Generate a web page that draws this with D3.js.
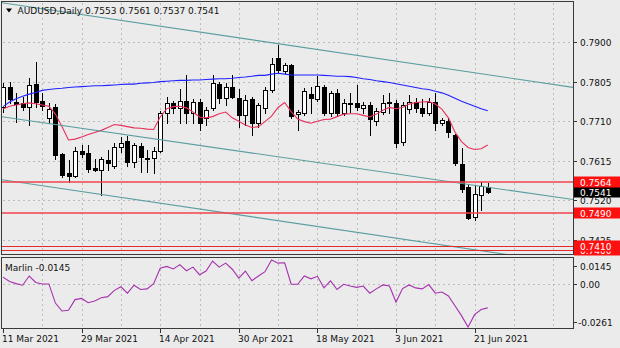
<!DOCTYPE html>
<html>
<head>
<meta charset="utf-8">
<script src="https://cdn.jsdelivr.net/npm/d3@7"></script>
<style>
  html, body { margin: 0; padding: 0; background: #ebebeb; }
  svg { display: block; }
  text { font-family: "DejaVu Sans", sans-serif; font-size: 9px; fill: #111; }
</style>
</head>
<body>
<svg id="chart" width="620" height="348"></svg>
<script>
// AUDUSD daily bars, 11 Mar 2021 .. 23 Jun 2021
const open = [0.7745,0.7793,0.7757,0.7754,0.7745,0.7799,0.7759,0.7717,0.7745,0.7631,
  0.7585,0.7579,0.7639,0.7633,0.7597,0.7593,0.7617,0.7602,0.7647,0.7662,
  0.7613,0.7650,0.7622,0.7621,0.7639,0.7729,0.7753,0.7741,0.7759,0.7729,
  0.7757,0.7717,0.7741,0.7799,0.7765,0.7791,0.7765,0.7725,0.7763,0.7705,
  0.7741,0.7785,0.7861,0.7831,0.7845,0.7727,0.7729,0.7775,0.7763,0.7793,
  0.7729,0.7778,0.7729,0.7753,0.7753,0.7741,0.7749,0.7711,0.7733,0.7754,
  0.7754,0.7661,0.7739,0.7757,0.7741,0.7729,0.7757,0.7705,0.7711,0.7677,
  0.7607,0.7551,0.7481,0.7533,0.7553];
const high = [0.7802,0.7805,0.7777,0.7769,0.7813,0.7853,0.7777,0.7753,0.7751,0.7633,
  0.7617,0.7647,0.7653,0.7653,0.7620,0.7625,0.7641,0.7657,0.7671,0.7674,
  0.7657,0.7657,0.7641,0.7647,0.7735,0.7767,0.7759,0.7787,0.7821,0.7763,
  0.7763,0.7745,0.7821,0.7805,0.7802,0.7821,0.7787,0.7773,0.7767,0.7754,
  0.7793,0.7861,0.7893,0.7850,0.7847,0.7737,0.7789,0.7793,0.7818,0.7797,
  0.7783,0.7787,0.7763,0.7778,0.7797,0.7757,0.7757,0.7741,0.7773,0.7777,
  0.7761,0.7755,0.7773,0.7765,0.7763,0.7765,0.7777,0.7717,0.7717,0.7679,
  0.7645,0.7559,0.7557,0.7565,0.7561];
const low = [0.7732,0.7753,0.7709,0.7737,0.7701,0.7745,0.7737,0.7705,0.7619,0.7575,
  0.7565,0.7577,0.7623,0.7589,0.7591,0.7533,0.7593,0.7597,0.7637,0.7602,
  0.7601,0.7589,0.7589,0.7585,0.7637,0.7705,0.7729,0.7706,0.7706,0.7705,
  0.7689,0.7701,0.7737,0.7753,0.7749,0.7765,0.7697,0.7701,0.7677,0.7695,
  0.7729,0.7781,0.7825,0.7825,0.7717,0.7689,0.7725,0.7730,0.7759,0.7725,
  0.7722,0.7725,0.7725,0.7733,0.7737,0.7730,0.7677,0.7701,0.7727,0.7729,
  0.7647,0.7653,0.7729,0.7733,0.7722,0.7725,0.7689,0.7701,0.7673,0.7605,
  0.7541,0.7475,0.7472,0.7497,0.7537];
const close = [0.7793,0.7763,0.7751,0.7743,0.7797,0.7757,0.7746,0.7739,0.7629,0.7581,
  0.7579,0.7639,0.7631,0.7595,0.7593,0.7619,0.7610,0.7647,0.7657,0.7613,
  0.7653,0.7623,0.7620,0.7639,0.7729,0.7753,0.7741,0.7759,0.7730,0.7757,
  0.7706,0.7737,0.7802,0.7765,0.7793,0.7769,0.7725,0.7761,0.7705,0.7749,
  0.7785,0.7847,0.7833,0.7845,0.7722,0.7733,0.7783,0.7765,0.7794,0.7729,
  0.7777,0.7729,0.7754,0.7752,0.7745,0.7749,0.7715,0.7735,0.7754,0.7755,
  0.7658,0.7748,0.7757,0.7741,0.7729,0.7757,0.7706,0.7713,0.7685,0.7609,
  0.7547,0.7477,0.7535,0.7555,0.7541];

// slow moving average (blue)
const maSlow = [0.7745,0.7756,0.7764,0.7770,0.7775,0.7779,0.7784,0.7786,0.7788,0.7789,
  0.7791,0.7792,0.7793,0.7794,0.7795,0.7795,0.7796,0.7797,0.7798,0.7799,
  0.7799,0.7801,0.7802,0.7803,0.7805,0.7806,0.7807,0.7808,0.7808,0.7809,
  0.7809,0.7810,0.7811,0.7812,0.7812,0.7813,0.7815,0.7816,0.7818,0.7820,
  0.7820,0.7823,0.7825,0.7823,0.7821,0.7821,0.7821,0.7821,0.7821,0.7820,
  0.7819,0.7818,0.7818,0.7817,0.7815,0.7812,0.7810,0.7807,0.7805,0.7803,
  0.7800,0.7797,0.7794,0.7791,0.7788,0.7786,0.7782,0.7778,0.7772,0.7765,
  0.7758,0.7752,0.7746,0.7740,0.7735];

// fast moving average (red)
const maFast = [0.7739,0.7746,0.7749,0.7752,0.7754,0.7752,0.7749,0.7746,0.7727,0.7697,
  0.7665,0.7667,0.7672,0.7678,0.7683,0.7688,0.7695,0.7702,0.7700,0.7697,
  0.7694,0.7693,0.7691,0.7690,0.7720,0.7740,0.7745,0.7746,0.7742,0.7732,
  0.7720,0.7718,0.7721,0.7728,0.7732,0.7718,0.7710,0.7701,0.7695,0.7697,
  0.7709,0.7722,0.7743,0.7755,0.7733,0.7715,0.7709,0.7705,0.7710,0.7714,
  0.7715,0.7721,0.7727,0.7728,0.7728,0.7724,0.7720,0.7727,0.7736,0.7743,
  0.7740,0.7743,0.7751,0.7755,0.7756,0.7757,0.7751,0.7739,0.7718,0.7684,
  0.7661,0.7647,0.7642,0.7644,0.7653];

// Marlin oscillator
const marlin = [0.0041,0.0015,0.0002,-0.0008,0.0048,0.0009,0.0000,0.0000,-0.0116,-0.0164,
  -0.0160,-0.0095,-0.0088,-0.0114,-0.0103,-0.0084,-0.0077,-0.0039,-0.0017,-0.0056,
  -0.0008,-0.0034,-0.0030,0.0002,0.0095,0.0106,0.0091,0.0117,0.0080,0.0102,
  0.0056,0.0078,0.0139,0.0102,0.0126,0.0089,0.0035,0.0078,0.0020,0.0048,
  0.0074,0.0145,0.0126,0.0128,-0.0002,-0.0002,0.0048,0.0031,0.0046,-0.0024,
  0.0018,-0.0034,-0.0002,-0.0013,-0.0021,-0.0013,-0.0056,-0.0030,-0.0006,-0.0013,
  -0.0110,-0.0028,-0.0006,-0.0024,-0.0030,-0.0004,-0.0056,-0.0049,-0.0073,-0.0132,
  -0.0192,-0.0261,-0.0186,-0.0155,-0.0145];

const priceTicks = [0.7900, 0.7805, 0.7710, 0.7615, 0.7520, 0.7425];
const oscTicks = [0.0145, 0.00, -0.0261];
const oscTickLabels = ["0.0145", "0.00", "-0.0261"];
const dateTickBars = [0, 12, 24, 36, 48, 60, 72];
const dateTickLabels = ["11 Mar 2021", "29 Mar 2021", "14 Apr 2021", "30 Apr 2021",
  "18 May 2021", "3 Jun 2021", "21 Jun 2021"];

// horizontal levels
const levelsMajor = [0.7564, 0.7490];
const levelsMinor = [0.7410, 0.7400];
const lastPrice = 0.7541;

// channel trendlines: two anchors each, [bar, price]
const channels = [
  [[0, 0.79937], [80, 0.78076]],
  [[0, 0.77203], [80, 0.75380]],
  [[0, 0.75692], [80, 0.73830]]
];

const title = "AUDUSD,Daily";
const titleValues = "0.7553 0.7561 0.7537 0.7541";

// ---------------------------------------------------------------
const W = 620, H = 348;
const svg = d3.select("#chart");
const mainBox = { x0: 1.5, y0: 1.5, x1: 573.5, y1: 254.5 };
const subBox  = { x0: 1.5, y0: 257.5, x1: 573.5, y1: 328.5 };

const x  = d3.scaleLinear().domain([0, 74]).range([3, 3 + 74 * 6.55]);
const y  = d3.scaleLinear().domain([0.7425, 0.7900]).range([240, 42]);
const yi = d3.scaleLinear().domain([-0.0261, 0.0145]).range([327, 260]);
const px = v => Math.round(v) + 0.5;

svg.append("rect").attr("width", W).attr("height", H).attr("fill", "#ebebeb");

const defs = svg.append("defs");
defs.append("clipPath").attr("id", "clipMain").append("rect")
  .attr("x", mainBox.x0 + 0.5).attr("y", mainBox.y0 + 0.5)
  .attr("width", mainBox.x1 - mainBox.x0 - 1).attr("height", mainBox.y1 - mainBox.y0 - 1);
defs.append("clipPath").attr("id", "clipSub").append("rect")
  .attr("x", subBox.x0 + 0.5).attr("y", subBox.y0 + 0.5)
  .attr("width", subBox.x1 - subBox.x0 - 1).attr("height", subBox.y1 - subBox.y0 - 1);
defs.append("clipPath").attr("id", "clipAxis").append("rect")
  .attr("x", 573).attr("y", 0).attr("width", 47).attr("height", 257.5);

// grid
const gridColor = "#bcbcbc";
const gridBars = d3.range(6, 88, 6);
const grid = svg.append("g").attr("stroke", gridColor).attr("stroke-dasharray", "2,3")
  .attr("shape-rendering", "crispEdges");
grid.selectAll(".vm").data(gridBars).join("line")
  .attr("x1", d => px(x(d))).attr("x2", d => px(x(d)))
  .attr("y1", mainBox.y0 + 1).attr("y2", mainBox.y1 - 1);
grid.selectAll(".vs").data(gridBars).join("line")
  .attr("x1", d => px(x(d))).attr("x2", d => px(x(d)))
  .attr("y1", subBox.y0 + 1).attr("y2", subBox.y1 - 1);
grid.selectAll(".hm").data(priceTicks).join("line")
  .attr("x1", mainBox.x0 + 1).attr("x2", mainBox.x1 - 1)
  .attr("y1", d => px(y(d))).attr("y2", d => px(y(d)));
grid.append("line")
  .attr("x1", subBox.x0 + 1).attr("x2", subBox.x1 - 1)
  .attr("y1", px(yi(0))).attr("y2", px(yi(0)));

// candles
const plot = svg.append("g").attr("clip-path", "url(#clipMain)");
const candles = plot.append("g").attr("shape-rendering", "crispEdges");
open.forEach((o, i) => {
  const c = close[i];
  const cx = Math.round(x(i));
  const top = Math.round(y(Math.max(o, c)));
  const bot = Math.round(y(Math.min(o, c)));
  candles.append("line")
    .attr("x1", cx + 0.5).attr("x2", cx + 0.5)
    .attr("y1", Math.round(y(high[i]))).attr("y2", Math.round(y(low[i])) + 1)
    .attr("stroke", "#000");
  if (bot - top >= 1) {
    candles.append("rect")
      .attr("x", cx - 1.5).attr("y", top + 0.5)
      .attr("width", 4).attr("height", bot - top)
      .attr("fill", c >= o ? "#fff" : "#000").attr("stroke", "#000");
  } else {
    candles.append("line")
      .attr("x1", cx - 2).attr("x2", cx + 3)
      .attr("y1", top + 0.5).attr("y2", top + 0.5).attr("stroke", "#000");
  }
});

// moving averages
const maLine = arr => d3.line().x((d, i) => x(i)).y(d => y(d))(arr);
plot.append("path").attr("d", maLine(maSlow)).attr("fill", "none")
  .attr("stroke", "#1f22ff").attr("stroke-width", 1.1);
plot.append("path").attr("d", maLine(maFast)).attr("fill", "none")
  .attr("stroke", "#e8305a").attr("stroke-width", 1.1);

// channel trendlines across the whole price panel
const xa = x.invert(mainBox.x0), xb = x.invert(mainBox.x1);
channels.forEach(([[b0, p0], [b1, p1]]) => {
  const at = b => p0 + (p1 - p0) * (b - b0) / (b1 - b0);
  plot.append("line")
    .attr("x1", x(xa)).attr("y1", y(at(xa)))
    .attr("x2", x(xb)).attr("y2", y(at(xb)))
    .attr("stroke", "#5b9ea0").attr("stroke-width", 1.1);
});

// horizontal levels
levelsMajor.forEach(p => {
  plot.append("line").attr("x1", mainBox.x0).attr("x2", mainBox.x1)
    .attr("y1", y(p)).attr("y2", y(p))
    .attr("stroke", "#f2434f").attr("stroke-width", 1.5);
});
levelsMinor.forEach(p => {
  plot.append("line").attr("x1", mainBox.x0).attr("x2", mainBox.x1)
    .attr("y1", px(y(p))).attr("y2", px(y(p)))
    .attr("stroke", "#e42a2a").attr("stroke-width", 1).attr("shape-rendering", "crispEdges");
});

// oscillator panel
const sub = svg.append("g").attr("clip-path", "url(#clipSub)");
sub.append("path")
  .attr("d", d3.line().x((d, i) => x(i)).y(d => yi(d))(marlin))
  .attr("fill", "none").attr("stroke", "#a531ad").attr("stroke-width", 1.1);

// panel frames
[mainBox, subBox].forEach(b => {
  svg.append("rect").attr("x", b.x0).attr("y", b.y0)
    .attr("width", b.x1 - b.x0).attr("height", b.y1 - b.y0)
    .attr("fill", "none").attr("stroke", "#3a3a3a").attr("shape-rendering", "crispEdges");
});

// price axis
const axis = svg.append("g").attr("clip-path", "url(#clipAxis)");
priceTicks.forEach(p => {
  axis.append("line").attr("x1", 573.5).attr("x2", 577)
    .attr("y1", px(y(p))).attr("y2", px(y(p))).attr("stroke", "#333")
    .attr("shape-rendering", "crispEdges");
  axis.append("text").attr("x", 580).attr("y", Math.round(y(p)) + 3.5).text(p.toFixed(4));
});
function tag(p, bg) {
  const yc = y(p);
  axis.append("rect").attr("x", 574).attr("y", Math.round(yc) - 5.5)
    .attr("width", 46).attr("height", 11).attr("fill", bg);
  axis.append("text").attr("x", 580).attr("y", Math.round(yc) + 3.5)
    .style("fill", "#fff").text(p.toFixed(4));
}
tag(lastPrice, "#000");
tag(levelsMajor[0], "#ff1010");
tag(levelsMajor[1], "#ff1010");
tag(levelsMinor[1], "#ff1010");
tag(levelsMinor[0], "#ff1010");

// oscillator axis
oscTicks.forEach((v, i) => {
  const yy = i === 0 ? yi(v) + 6 : (i === oscTicks.length - 1 ? yi(v) - 5 : yi(v));
  svg.append("line").attr("x1", 573.5).attr("x2", 577)
    .attr("y1", px(yy)).attr("y2", px(yy)).attr("stroke", "#333")
    .attr("shape-rendering", "crispEdges");
  svg.append("text").attr("x", i === oscTicks.length - 1 ? 578 : 580)
    .attr("y", Math.round(yy) + 3.5).text(oscTickLabels[i]);
});

// time axis
dateTickBars.forEach((b, i) => {
  const xx = px(x(b));
  svg.append("line").attr("x1", xx).attr("x2", xx).attr("y1", subBox.y1).attr("y2", subBox.y1 + 4)
    .attr("stroke", "#333").attr("shape-rendering", "crispEdges");
  svg.append("text").attr("x", Math.round(x(b)) - 1).attr("y", 342).text(dateTickLabels[i]);
});

// headers
svg.append("path").attr("d", "M6,8.5 L12,8.5 L9,12.5 Z").attr("fill", "#000");
svg.append("text").attr("x", 17.5).attr("y", 14).text(title);
svg.append("text").attr("x", 85).attr("y", 14).text(titleValues);
svg.append("text").attr("x", 5).attr("y", 271).text("Marlin " + marlin[marlin.length - 1].toFixed(4));
</script>
</body>
</html>
